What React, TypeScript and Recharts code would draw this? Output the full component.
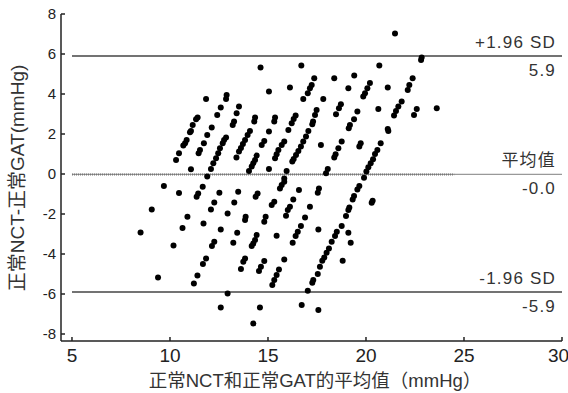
import { ScatterChart, Scatter, XAxis, YAxis, ReferenceLine } from "recharts";

// Bland-Altman: mean of NCT & GAT (x) vs. NCT - GAT difference (y), mmHg
const meanDiff = -0.02;
const upperLimit = 5.9;
const lowerLimit = -5.9;
const fitEnd = 24.5;

const xTicks = [5, 10, 15, 20, 25, 30];
const yTicks = [-8, -6, -4, -2, 0, 2, 4, 6, 8];

const points: [number, number][] = [
  [8.5, -2.93], [9.07, -1.77], [9.39, -5.17], [9.69, -0.6], [10.18, -3.57],
  [10.31, 0.7], [10.46, 1.04], [10.46, -0.95], [10.64, -2.7], [10.68, 1.42], [10.77, 1.54], [10.85, 1.7],
  [10.89, -2.14], [11.02, 2.09], [11.07, 2.15], [11.16, 2.45], [11.33, 2.74], [11.41, 2.82], [11.07, 0.24],
  [11.22, -5.48], [11.4, -5.08],
  [11.46, 1.04], [11.53, 1.2], [11.73, 1.54], [11.9, 1.95], [12.13, 2.32], [11.84, 3.75],
  [11.36, -1.14], [11.44, -0.97], [11.67, -0.64],
  [11.68, -4.5], [11.71, -2.47], [11.84, -4.22], [11.9, -0.13], [12.09, 0.25], [12.09, -1.77], [12.14, -3.6],
  [12.21, 0.54], [12.35, 0.79], [12.46, 1.04], [12.55, 1.29], [12.69, 1.54], [12.76, 1.7], [12.86, 1.82],
  [12.26, -1.42], [12.26, -3.39], [12.41, 2.95], [12.59, 3.32], [12.86, 3.75], [12.89, 3.95],
  [12.52, -0.94], [12.59, -2.77], [12.59, -6.67], [12.94, -1.97], [12.94, -5.97],
  [13.2, 2.45], [13.27, 2.62], [13.4, 3.04], [13.52, 3.37],
  [13.23, -3.44], [13.28, -1.42], [13.43, -2.94], [13.48, -0.89], [13.62, -4.75],
  [13.39, 0.83], [13.52, 1.12], [13.62, 1.3], [13.72, 1.5], [13.83, 1.7], [13.96, 1.95], [14.08, 2.15],
  [14.62, 5.32], [16.7, 5.42], [15.05, 4.12], [16.12, 4.32],
  [17.36, 4.79], [17.23, 4.45], [17.14, 4.29], [17.03, 4.04], [16.8, 3.75],
  [18.38, 4.79], [17.82, 3.75], [18.72, 3.49], [18.62, 3.29], [18.47, 2.99],
  [14.34, 2.82], [14.3, 2.62], [15.36, 2.82], [15.32, 2.62],
  [16.41, 2.92], [16.31, 2.75], [16.21, 2.54],
  [17.48, 3.2], [17.4, 2.95], [17.3, 2.62], [17.26, 2.49],
  [15.05, 2.12], [16.04, 2.2],
  [17.06, 2.15], [16.94, 1.87], [16.8, 1.62], [16.68, 1.37], [16.55, 1.15], [16.43, 0.95], [16.31, 0.75], [16.24, 0.62],
  [14.81, 1.65], [14.68, 1.45],
  [15.83, 1.62], [15.7, 1.45], [15.53, 1.2], [15.44, 0.99], [15.36, 0.79],
  [17.7, 1.45],
  [18.76, 1.62], [18.59, 1.29], [18.45, 0.99], [18.38, 0.82],
  [14.42, 0.92], [14.34, 0.7], [14.25, 0.54], [14.17, 0.37],
  [14.03, 0.15], [15.05, 0.25], [15.95, 0.15], [15.83, -0.22], [18.05, 0.25], [17.96, 0.04],
  [21.48, 7.03], [22.84, 5.82], [22.81, 5.7], [20.68, 5.42], [19.4, 4.92],
  [22.38, 4.79], [22.21, 4.45], [22.13, 4.2],
  [19.1, 4.29],
  [20.2, 4.55], [20.07, 4.29], [19.95, 4.04], [19.86, 3.87],
  [21.11, 4.32],
  [21.82, 3.62], [21.65, 3.37], [21.53, 3.15], [21.43, 2.92],
  [19.56, 3.12], [19.39, 2.74], [19.18, 2.45], [19.12, 2.29],
  [20.63, 3.25], [22.59, 3.25], [22.45, 2.95], [23.61, 3.29],
  [21.11, 2.25], [21.14, 2.15],
  [19.73, 1.54], [19.66, 1.37], [20.75, 1.54],
  [20.58, 1.2], [20.46, 1.0], [20.36, 0.74], [20.24, 0.54], [20.12, 0.34], [20.02, 0.12], [19.9, -0.19],
  [15.83, -0.39], [15.7, -0.55], [15.61, -0.72],
  [14.47, -0.97], [14.37, -1.14],
  [16.58, -0.8], [17.6, -0.72], [17.54, -0.94],
  [15.32, -1.39], [15.19, -1.55],
  [16.29, -1.27], [16.12, -1.64], [16.01, -1.8], [15.92, -2.09],
  [17.14, -1.64],
  [13.86, -2.14], [13.83, -2.3],
  [14.88, -2.14], [14.81, -2.39],
  [16.89, -2.17],
  [16.68, -2.6], [16.52, -2.89], [16.41, -3.1],
  [17.57, -2.77],
  [19.66, -0.6], [19.56, -0.77], [19.39, -1.1], [19.32, -1.27], [19.15, -1.67], [19.1, -1.8], [18.98, -2.1],
  [18.76, -2.6], [18.51, -2.89], [18.42, -3.1], [18.25, -3.39], [18.11, -3.72], [17.99, -3.94], [17.87, -4.17],
  [17.77, -4.34], [17.65, -4.64], [17.54, -5.0], [17.26, -5.44], [17.03, -5.84],
  [20.34, -1.34], [20.29, -1.44],
  [19.1, -2.94], [19.22, -3.44], [18.81, -4.34],
  [14.42, -3.05], [14.34, -3.3], [14.25, -3.47], [14.17, -3.6],
  [15.44, -3.09], [16.26, -3.44],
  [13.83, -4.22], [13.74, -4.39],
  [14.81, -4.35], [14.64, -4.64], [14.54, -4.85],
  [15.83, -4.27],
  [15.56, -4.77], [15.44, -5.05], [15.32, -5.3], [15.22, -5.55],
  [17.31, -5.3],
  [14.59, -6.67], [14.25, -7.47], [16.72, -6.55], [17.57, -6.8],
];

const data = points.map(([avg, diff]) => ({ avg, diff }));

const latin = "'Liberation Sans', Arial, sans-serif";
const mixed = "'Liberation Sans', 'Noto Sans CJK SC', sans-serif";
const ink = "#222";
const lineColor = "#444";

function fmt(v: number) {
  return (Math.round(v * 10) / 10 === 0 && v < 0) ? "-0.0" : v.toFixed(1);
}

function LimitLabel({ viewBox, top, bottom }: any) {
  if (!viewBox) return null;
  const right = viewBox.x + viewBox.width - 6;
  const y = viewBox.y;
  const textStyle = { fontSize: 17, fill: "#333", fontFamily: mixed, letterSpacing: 1.2 };
  return (
    <g>
      <text x={right} y={y - 8} textAnchor="end" style={textStyle}>{top}</text>
      <text x={right} y={y + 20} textAnchor="end" style={textStyle}>{bottom}</text>
    </g>
  );
}

function Dot({ cx, cy }: any) {
  return <circle cx={cx} cy={cy} r={3} fill="#000" />;
}

export default function App() {
  const x0 = xTicks[0];
  const x1 = xTicks[xTicks.length - 1];
  return (
    <div style={{ position: "absolute", left: 0, top: 0, width: 568, height: 393, background: "#fff", overflow: "hidden" }}>
      <ScatterChart width={568} height={393} margin={{ top: 14, right: 6, bottom: 22, left: 21 }}>
        <XAxis
          type="number"
          dataKey="avg"
          domain={[4.44, 30]}
          ticks={xTicks}
          allowDataOverflow
          height={30}
          tickSize={-4}
          tickMargin={12}
          stroke={ink}
          strokeWidth={1.5}
          tick={{ fontSize: 19, fill: ink, fontFamily: latin }}
        />
        <YAxis
          type="number"
          dataKey="diff"
          domain={[-8.35, 8]}
          ticks={yTicks}
          allowDataOverflow
          width={40}
          tickSize={-4}
          tickMargin={9}
          stroke={ink}
          strokeWidth={1.5}
          tick={{ fontSize: 15, fill: ink, fontFamily: latin }}
        />
        <ReferenceLine
          segment={[{ x: x0, y: upperLimit }, { x: x1, y: upperLimit }]}
          stroke={lineColor}
          strokeWidth={1.5}
          label={<LimitLabel top="+1.96 SD" bottom={fmt(upperLimit)} />}
        />
        <ReferenceLine
          segment={[{ x: x0, y: meanDiff }, { x: x1, y: meanDiff }]}
          stroke="#999"
          strokeWidth={1.2}
          label={<LimitLabel top="平均值" bottom={fmt(meanDiff)} />}
        />
        <ReferenceLine
          segment={[{ x: x0, y: meanDiff }, { x: fitEnd, y: meanDiff }]}
          stroke="#777"
          strokeWidth={2}
          strokeDasharray="1 1"
        />
        <ReferenceLine
          segment={[{ x: x0, y: lowerLimit }, { x: x1, y: lowerLimit }]}
          stroke={lineColor}
          strokeWidth={1.5}
          label={<LimitLabel top="-1.96 SD" bottom={fmt(lowerLimit)} />}
        />
        <Scatter data={data} shape={<Dot />} isAnimationActive={false} />
      </ScatterChart>
      <div
        style={{
          position: "absolute", left: 17, top: 178, transform: "translate(-50%, -50%) rotate(-90deg)",
          whiteSpace: "nowrap", fontSize: 19, lineHeight: 1, color: "#333", fontFamily: mixed,
        }}
      >
        正常NCT-正常GAT(mmHg)
      </div>
      <div
        style={{
          position: "absolute", left: 315, top: 381, transform: "translate(-50%, -50%)",
          whiteSpace: "nowrap", fontSize: 18.5, lineHeight: 1, color: "#333", fontFamily: mixed,
        }}
      >
        正常NCT和正常GAT的平均值（mmHg）
      </div>
    </div>
  );
}
